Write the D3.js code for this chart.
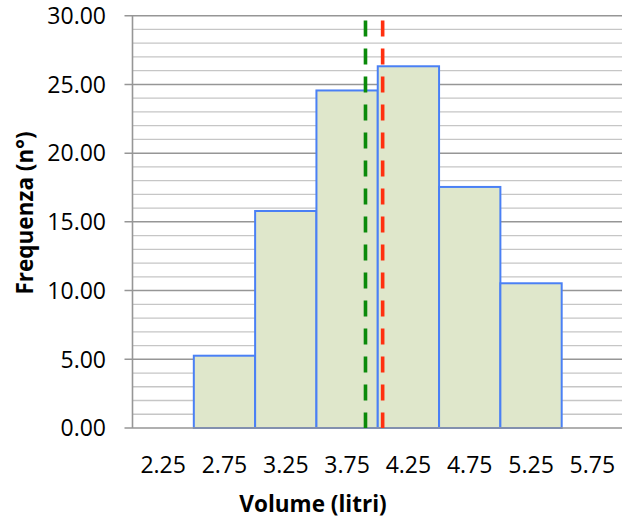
<!DOCTYPE html>
<html>
<head>
<meta charset="utf-8">
<script src="https://cdn.jsdelivr.net/npm/d3@7"></script>
<style>
  html, body { margin: 0; padding: 0; background: #fff; }
  svg { display: block; }
</style>
</head>
<body>
<svg id="chart" width="622" height="520"></svg>
<script>
// ---- data ----
const categories = [2.25, 2.75, 3.25, 3.75, 4.25, 4.75, 5.25, 5.75];
const frequencies = [0, 5.26, 15.79, 24.56, 26.32, 17.54, 10.53, 0];
const yTicks = [0, 5, 10, 15, 20, 25, 30];
const medianValue = 3.90;   // green dashed line
const meanValue = 4.04;     // red dashed line
const xTitle = "Volume (litri)";
const yTitle = "Frequenza (n°)";

(function () {
// ---- layout ----
const svg = d3.select("#chart");
const pLeft = 132.5, pRight = 623, pTop = 15.7, pBottom = 428;
const binWidth = 0.5;

const x = d3.scaleLinear().domain([2.0, 6.0]).range([pLeft, pRight]);
const y = d3.scaleLinear().domain([0, 30]).range([pBottom, pTop]);

const fontFam = "'Open Sans', 'Liberation Sans', sans-serif";

// minor gridlines
const minorTicks = d3.range(1, 30).filter(v => v % 5 !== 0);
svg.append("g").selectAll("line").data(minorTicks).join("line")
  .attr("x1", pLeft).attr("x2", pRight)
  .attr("y1", d => y(d)).attr("y2", d => y(d))
  .attr("stroke", "#c6c6c6").attr("stroke-width", 1.3);

// major gridlines
svg.append("g").selectAll("line").data(yTicks.filter(v => v > 0)).join("line")
  .attr("x1", pLeft - 8).attr("x2", pRight)
  .attr("y1", d => y(d)).attr("y2", d => y(d))
  .attr("stroke", "#969696").attr("stroke-width", 1.5);

// bars
const data = categories.map((c, i) => ({c, v: frequencies[i]}));
svg.append("g").selectAll("rect").data(data.filter(d => d.v > 0)).join("rect")
  .attr("x", d => x(d.c - binWidth / 2))
  .attr("width", d => x(d.c + binWidth / 2) - x(d.c - binWidth / 2))
  .attr("y", d => y(d.v))
  .attr("height", d => y(0) - y(d.v))
  .attr("fill", "#dfe7cb")
  .attr("stroke", "#4a80f5")
  .attr("stroke-width", 2);

// axes lines
svg.append("line").attr("x1", pLeft).attr("x2", pLeft)
  .attr("y1", pTop).attr("y2", pBottom)
  .attr("stroke", "#969696").attr("stroke-width", 1.6);
svg.append("line").attr("x1", pLeft - 8).attr("x2", pRight)
  .attr("y1", pBottom).attr("y2", pBottom)
  .attr("stroke", "#969696").attr("stroke-width", 1.6);

// dashed lines
svg.append("line")
  .attr("x1", x(medianValue)).attr("x2", x(medianValue))
  .attr("y1", 20.5).attr("y2", pBottom)
  .attr("stroke", "#0a8a0a").attr("stroke-width", 3.6)
  .attr("stroke-dasharray", "16 12");
svg.append("line")
  .attr("x1", x(meanValue)).attr("x2", x(meanValue))
  .attr("y1", 20.5).attr("y2", pBottom)
  .attr("stroke", "#ff3010").attr("stroke-width", 3.6)
  .attr("stroke-dasharray", "16 12");

// y tick labels
svg.append("g").selectAll("text").data(yTicks).join("text")
  .attr("x", 106).attr("y", d => y(d))
  .attr("dy", "0.36em")
  .attr("text-anchor", "end")
  .attr("font-family", fontFam).attr("font-size", 23)
  .attr("fill", "#000")
  .text(d => d.toFixed(2));

// x tick labels
svg.append("g").selectAll("text").data(categories).join("text")
  .attr("x", d => x(d)).attr("y", 473)
  .attr("text-anchor", "middle")
  .attr("font-family", fontFam).attr("font-size", 23)
  .attr("fill", "#000")
  .text(d => d.toFixed(2));

// axis titles
svg.append("text")
  .attr("x", 313).attr("y", 512)
  .attr("text-anchor", "middle")
  .attr("font-family", fontFam).attr("font-size", 22.5).attr("font-weight", "bold")
  .attr("fill", "#000")
  .text(xTitle);

svg.append("text")
  .attr("transform", "translate(32.5,213) rotate(-90)")
  .attr("text-anchor", "middle")
  .attr("font-family", fontFam).attr("font-size", 22.5).attr("font-weight", "bold")
  .attr("fill", "#000")
  .text(yTitle);
})();
</script>
</body>
</html>
